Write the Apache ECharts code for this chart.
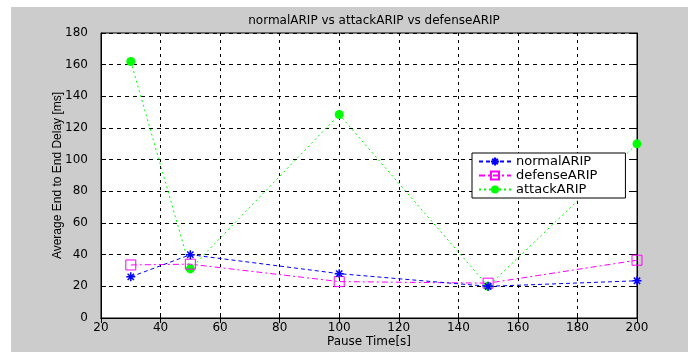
<!DOCTYPE html>
<html>
<head>
<meta charset="utf-8">
<script src="https://cdn.jsdelivr.net/npm/echarts@6/dist/echarts.min.js"></script>
<style>
html, body { margin: 0; padding: 0; background: #fff; }
#main { width: 688px; height: 352px; }
</style>
</head>
<body>
<div id="main"></div>
<script>
// pause times and delays
var pauseTime = [30, 50, 100, 150, 200];
var normalARIP = [26, 40, 28, 20, 23.5];
var defenseARIP = [33.5, 34, 23, 22, 36.5];
var attackARIP = [162, 31, 128.5, 20, 110];
var xTicks = [20, 40, 60, 80, 100, 120, 140, 160, 180, 200];
var yTicks = [0, 20, 40, 60, 80, 100, 120, 140, 160, 180];

function pairs(ys) {
    var out = [];
    for (var i = 0; i < pauseTime.length; i++) {
        out.push([pauseTime[i], ys[i]]);
    }
    return out;
}

var font = 'DejaVu Sans, Liberation Sans, sans-serif';
var asterisk = 'path://M5,0L5,10M0,5L10,5M1.5,1.5L8.5,8.5M8.5,1.5L1.5,8.5';

var myChart = echarts.init(document.getElementById('main'));
var option = {
    animation: false,
    backgroundColor: '#fff',
    graphic: [{
        type: 'rect',
        z: -100,
        shape: {x: 11, y: 7, width: 677, height: 345},
        style: {fill: '#cccccc'}
    }],
    title: {
        text: 'normalARIP vs attackARIP vs defenseARIP',
        left: 369,
        top: 10,
        textAlign: 'center',
        textStyle: {fontFamily: font, fontSize: 12, fontWeight: 'normal', color: '#000'}
    },
    grid: {
        left: 101, top: 33, right: 51, bottom: 34,
        outerBoundsMode: 'none',
        containLabel: false,
        show: true, backgroundColor: '#fff', borderColor: '#000', borderWidth: 1
    },
    legend: {
        orient: 'vertical',
        left: 472,
        top: 153,
        backgroundColor: '#fff',
        borderColor: '#000',
        borderWidth: 1,
        padding: [2, 28, 2, 6],
        itemWidth: 32,
        itemHeight: 10,
        itemGap: 1,
        textStyle: {fontFamily: font, fontSize: 13, lineHeight: 13, color: '#000'},
        data: ['normalARIP', 'defenseARIP', 'attackARIP']
    },
    xAxis: [{
        type: 'value',
        min: 20, max: 200, interval: 20,
        name: 'Pause Time[s]',
        nameLocation: 'middle',
        nameGap: 18,
        nameMoveOverlap: false,
        nameTextStyle: {fontFamily: font, fontSize: 12, color: '#000'},
        axisLine: {lineStyle: {color: '#000'}},
        axisTick: {inside: true, length: 5, lineStyle: {color: '#000'}},
        axisLabel: {fontFamily: font, fontSize: 12, color: '#000', margin: 4},
        splitLine: {show: true, lineStyle: {color: '#000', type: [3, 4]}}
    }, {
        type: 'value', position: 'top',
        min: 20, max: 200, interval: 20,
        axisLine: {lineStyle: {color: '#000'}},
        axisTick: {inside: true, length: 5, lineStyle: {color: '#000'}},
        axisLabel: {show: false},
        splitLine: {show: false}
    }],
    yAxis: [{
        type: 'value',
        min: 0, max: 180, interval: 20,
        name: 'Average End to End Delay [ms]',
        nameLocation: 'middle',
        nameGap: 37,
        nameMoveOverlap: false,
        nameTextStyle: {fontFamily: 'Liberation Sans Narrow, Liberation Sans, sans-serif', fontSize: 12, color: '#000'},
        axisLine: {lineStyle: {color: '#000'}},
        axisTick: {inside: true, length: 5, lineStyle: {color: '#000'}},
        axisLabel: {fontFamily: font, fontSize: 12, color: '#000', margin: 13},
        splitLine: {show: true, lineStyle: {color: '#000', type: [4, 4]}}
    }, {
        type: 'value', position: 'right',
        min: 0, max: 180, interval: 20,
        axisLine: {lineStyle: {color: '#000'}},
        axisTick: {inside: true, length: 5, lineStyle: {color: '#000'}},
        axisLabel: {show: false},
        splitLine: {show: false}
    }],
    series: [
        {
            name: 'normalARIP',
            type: 'line',
            data: pairs(normalARIP),
            symbol: asterisk,
            symbolSize: 9,
            itemStyle: {color: '#0000ff', borderColor: '#0000ff', borderWidth: 1.5},
            lineStyle: {color: '#0000ff', width: 1, type: [4, 3]},
            z: 4
        },
        {
            name: 'defenseARIP',
            type: 'line',
            data: pairs(defenseARIP),
            symbol: 'rect',
            symbolSize: 10,
            itemStyle: {color: 'transparent', borderColor: '#ff00ff', borderWidth: 1},
            lineStyle: {color: '#ff00ff', width: 1, type: [6, 3, 2, 3]},
            z: 3
        },
        {
            name: 'attackARIP',
            type: 'line',
            data: pairs(attackARIP),
            symbol: 'circle',
            symbolSize: 9,
            itemStyle: {color: '#00ff00'},
            lineStyle: {color: '#00ff00', width: 1, type: [2, 3]},
            z: 2
        }
    ]
};
myChart.setOption(option);
</script>
</body>
</html>
